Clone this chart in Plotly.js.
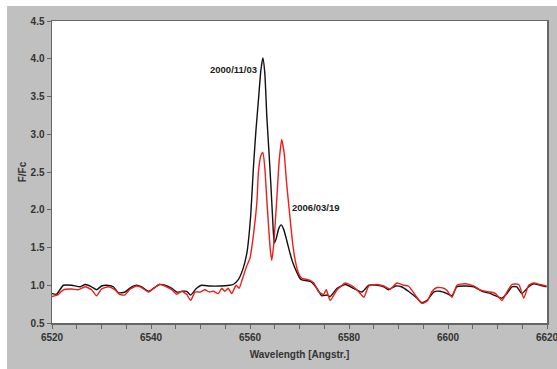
<!DOCTYPE html>
<html>
<head>
<meta charset="utf-8">
<script src="https://cdn.plot.ly/plotly-3.0.1.min.js"></script>
<style>
html,body{margin:0;padding:0;background:#ffffff;width:557px;height:369px;overflow:hidden;}
#chart{position:absolute;left:7px;top:6px;width:550px;height:363px;}
</style>
</head>
<body>
<div id="chart"></div>
<script>
// 2000/11/03 spectrum (black)
const wlBlack = [6520.0,6520.9,6522.3,6524.0,6525.7,6526.7,6528.0,6529.0,6530.0,6531.0,6532.4,6533.4,6534.7,6536.1,6537.1,6538.1,6539.5,6540.5,6541.7,6542.8,6544.2,6545.2,6546.4,6547.2,6548.0,6549.2,6550.2,6551.9,6553.9,6555.9,6556.6,6557.6,6558.6,6559.4,6560.1,6560.7,6561.2,6561.7,6562.2,6562.6,6563.0,6563.4,6563.8,6564.2,6564.6,6564.9,6565.3,6565.8,6566.3,6566.8,6567.4,6568.1,6568.7,6569.4,6570.1,6570.5,6572.2,6573.5,6574.5,6575.6,6576.2,6577.6,6579.3,6580.9,6582.6,6584.0,6585.7,6587.0,6588.0,6589.4,6590.6,6592.0,6593.7,6594.7,6595.8,6597.1,6598.4,6599.8,6600.8,6601.8,6603.2,6605.2,6606.9,6608.6,6610.9,6611.9,6612.9,6613.9,6614.9,6616.3,6617.3,6618.6,6619.9];
const fluxBlack = [0.89,0.88,1.00,1.00,0.98,1.01,0.98,0.94,0.99,1.00,0.98,0.90,0.91,0.98,1.00,0.98,0.92,0.96,1.01,1.00,0.96,0.91,0.92,0.92,0.87,0.96,1.00,0.99,0.99,1.00,1.01,1.07,1.22,1.44,1.89,2.57,3.05,3.45,3.85,4.01,3.80,3.23,2.80,2.35,1.85,1.56,1.62,1.75,1.80,1.74,1.60,1.42,1.29,1.18,1.09,1.07,1.05,0.96,0.86,0.87,0.85,0.96,1.01,0.96,0.91,1.00,1.00,0.98,0.94,0.99,0.98,0.92,0.83,0.77,0.80,0.91,0.92,0.89,0.86,0.98,0.99,0.98,0.92,0.89,0.83,0.89,0.98,0.98,0.89,0.98,1.02,1.00,0.98];

// 2006/03/19 spectrum (red)
const wlRed = [6520.0,6521.3,6522.3,6524.0,6525.3,6526.7,6528.0,6529.0,6530.0,6531.4,6532.7,6533.6,6534.7,6535.8,6537.1,6538.1,6539.5,6540.6,6541.7,6542.8,6544.2,6545.2,6546.2,6547.2,6548.0,6548.9,6549.9,6550.9,6551.8,6552.6,6553.6,6554.3,6554.9,6555.6,6556.3,6557.2,6557.8,6558.5,6559.3,6560.0,6560.7,6561.4,6561.7,6562.2,6562.6,6563.0,6563.4,6564.1,6564.4,6564.8,6565.4,6565.9,6566.4,6566.9,6567.4,6568.0,6568.5,6569.0,6569.6,6570.1,6570.5,6571.9,6572.9,6573.9,6574.9,6575.4,6576.2,6577.6,6579.3,6580.9,6582.3,6583.0,6584.0,6585.7,6587.0,6588.3,6589.7,6591.0,6592.0,6593.4,6594.7,6595.8,6596.8,6597.8,6599.1,6599.8,6600.8,6601.8,6603.5,6605.2,6606.5,6607.5,6608.6,6609.6,6610.9,6611.9,6612.9,6614.3,6615.3,6616.3,6617.3,6618.6,6619.9];
const fluxRed = [0.85,0.88,0.94,0.95,0.94,0.98,0.94,0.86,0.95,0.98,0.94,0.88,0.87,0.95,0.99,0.97,0.91,0.96,1.01,0.99,0.94,0.88,0.92,0.88,0.80,0.91,0.91,0.94,0.91,0.92,0.89,0.96,0.92,0.96,0.89,1.00,0.96,1.09,1.25,1.36,1.67,2.11,2.50,2.72,2.76,2.55,2.13,1.47,1.33,1.55,2.13,2.65,2.93,2.75,2.35,1.95,1.62,1.38,1.20,1.12,1.09,1.07,1.03,0.91,0.88,0.94,0.80,0.94,1.03,0.98,0.89,0.84,0.99,1.01,0.99,0.95,1.03,1.00,0.99,0.87,0.76,0.79,0.92,0.97,0.96,0.93,0.84,1.00,1.02,0.99,0.94,0.92,0.91,0.89,0.80,0.91,1.01,1.01,0.83,1.00,1.03,1.01,0.99];

const labels = ['2000/11/03','2006/03/19'];
const labelX = [6556.6, 6573.3];
const labelY = [3.86, 2.03];

const fontFam = 'Arial, "Liberation Sans", sans-serif';
const traces = [
  {x: wlBlack, y: fluxBlack, mode:'lines', line:{color:'#111111', width:1.4, shape:'spline', smoothing:0.5}, name:labels[0], hoverinfo:'skip'},
  {x: wlRed, y: fluxRed, mode:'lines', line:{color:'#ee1c1c', width:1.4, shape:'spline', smoothing:0.5}, name:labels[1], hoverinfo:'skip'}
];
const layout = {
  width:550, height:363,
  margin:{l:45, r:10, t:15, b:46},
  paper_bgcolor:'#c0c0c0',
  plot_bgcolor:'#ffffff',
  showlegend:false,
  font:{family:fontFam, color:'#333333', size:10},
  xaxis:{
    range:[6520,6620], dtick:20, tick0:6520,
    ticks:'outside', ticklen:4, tickcolor:'#666',
    showgrid:false, zeroline:false,
    showline:true, linecolor:'#666', linewidth:1.5, mirror:true,
    ticklabeloverflow:'allow',
    tickfont:{family:fontFam, size:10, color:'#333', weight:'bold'},
    minor:{dtick:5, ticks:'outside', ticklen:4, tickcolor:'#666', showgrid:false},
    title:{text:'Wavelength [Angstr.]', font:{family:fontFam, size:10, color:'#333', weight:'bold'}, standoff:9}
  },
  yaxis:{
    range:[0.5,4.5], dtick:0.5, tickformat:'.1f',
    ticks:'outside', ticklen:4, tickcolor:'#666',
    showgrid:false, zeroline:false,
    showline:true, linecolor:'#666', linewidth:1.5, mirror:true,
    tickfont:{family:fontFam, size:10, color:'#333', weight:'bold'},
    title:{text:'F/Fc', font:{family:fontFam, size:10, color:'#333', weight:'bold'}, standoff:2}
  },
  annotations: labels.map((t,i)=>({x:labelX[i], y:labelY[i], xref:'x', yref:'y', text:t, showarrow:false,
    font:{family:fontFam, size:9.5, color:'#222', weight:'bold'}}))
};
Plotly.newPlot('chart', traces, layout, {staticPlot:true, displayModeBar:false});
</script>
</body>
</html>
